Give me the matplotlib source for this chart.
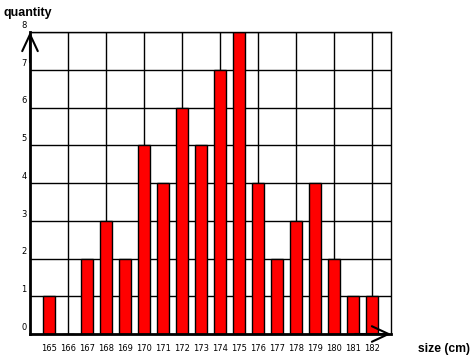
import matplotlib.pyplot as plt

sizes = [165, 166, 167, 168, 169, 170, 171, 172, 173, 174, 175, 176, 177, 178, 179, 180, 181, 182]
quantity = [1, 0, 2, 3, 2, 5, 4, 6, 5, 7, 8, 4, 2, 3, 4, 2, 1, 1]
yticks = [0, 1, 2, 3, 4, 5, 6, 7, 8]

fig = plt.figure(figsize=(4.74, 3.59), dpi=100)
ax = fig.add_axes([30 / 474, 25 / 359, 361 / 474, 302 / 359])

# grid: horizontal at each unit, vertical every two sizes
for y in yticks[1:]:
    ax.axhline(y, color='black', lw=1, zorder=1)
for x in range(166, 183, 2):
    ax.axvline(x, color='black', lw=1, zorder=1)

ax.bar(sizes, quantity, width=0.58, color='red', edgecolor='black', lw=1, zorder=2)

ax.set_xlim(164, 183)
ax.set_ylim(0, 8)
ax.set_xticks([])
ax.set_yticks([])
for s in ['top', 'right']:
    ax.spines[s].set_linewidth(1)
for s in ['left', 'bottom']:
    ax.spines[s].set_linewidth(2)

for x in sizes:
    ax.annotate(str(x), xy=(x, 0), xycoords='data', xytext=(0, -7.5),
                textcoords='offset points', ha='center', va='top',
                fontsize=6, family='DejaVu Sans')
for y in yticks:
    ax.annotate(str(y), xy=(164, y), xycoords='data', xytext=(-2.5, 1.5),
                textcoords='offset points', ha='right', va='bottom',
                fontsize=6, family='DejaVu Sans')

# arrows on the axes
ax.annotate('', xy=(0, 1), xycoords='axes fraction', xytext=(0, 0.9),
            arrowprops=dict(arrowstyle='->,head_length=0.6,head_width=0.28', lw=1.5,
                            color='black', mutation_scale=20, shrinkA=0, shrinkB=0))
ax.annotate('', xy=(1, 0), xycoords='axes fraction', xytext=(0.9, 0),
            arrowprops=dict(arrowstyle='->,head_length=0.6,head_width=0.28', lw=1.5,
                            color='black', mutation_scale=20, shrinkA=0, shrinkB=0))

fig.text(4 / 474, 1 - 13 / 359, 'quantity', fontsize=9, fontweight='bold',
         family='Liberation Sans', ha='left', va='center')
fig.text(418 / 474, 1 - 349 / 359, 'size (cm)', fontsize=8.7, fontweight='bold',
         family='Liberation Sans', ha='left', va='center')

fig.savefig('out.png', dpi=100)
